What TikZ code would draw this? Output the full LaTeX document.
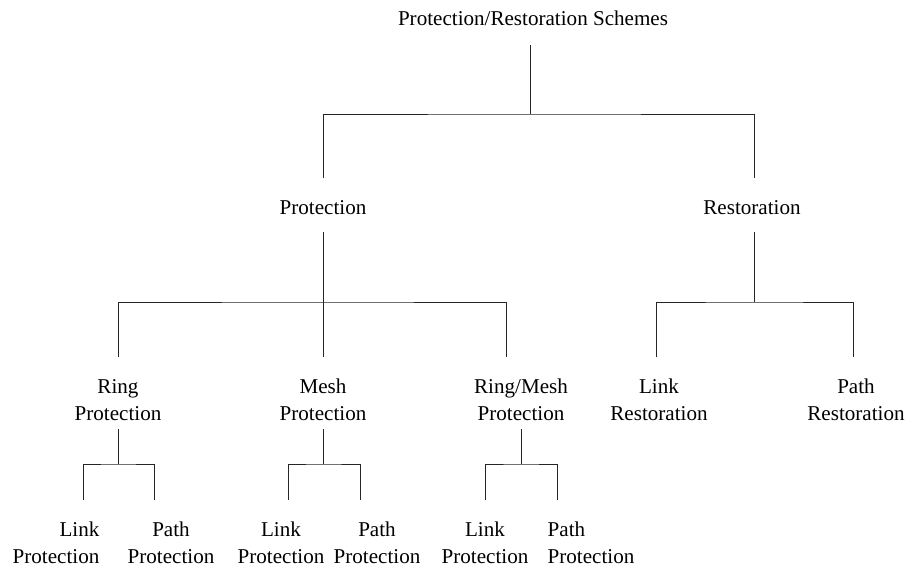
\documentclass[tikz,border=0pt]{standalone}
\usepackage{fontspec}
\setmainfont{Liberation Serif}
\begin{document}
\begin{tikzpicture}[x=0.3mm,y=-0.3mm,line cap=butt,
  lbl/.style={inner sep=0pt,align=center,text=black,font=\fontsize{18pt}{23pt}\selectfont},
  wire/.style={black!85,line width=0.8pt},
  drop/.style={shorten >=0.65cm}]
\useasboundingbox (0,0) rectangle (907,568);
\node[lbl,anchor=base] (root) at (533,25) {Protection/Restoration Schemes};
\node[lbl,anchor=base] (prot) at (323,214) {Protection};
\node[lbl,anchor=base] (rest) at (752,214) {Restoration};
\node[lbl,anchor=north] (ringp) at (118,379) {Ring\\Protection};
\node[lbl,anchor=north] (meshp) at (323,379) {Mesh\\Protection};
\node[lbl,anchor=north] (rmp) at (521,379) {Ring/Mesh\\Protection};
\node[lbl,anchor=north] (linkr) at (659,379) {Link\\Restoration};
\node[lbl,anchor=north] (pathr) at (856,379) {Path\\Restoration};
\node[lbl,anchor=north,align=right] (link1) at (56,522) {Link\\Protection};
\node[lbl,anchor=north] (path1) at (171,522) {Path\\Protection};
\node[lbl,anchor=north] (link2) at (281,522) {Link\\Protection};
\node[lbl,anchor=north] (path2) at (377,522) {Path\\Protection};
\node[lbl,anchor=north] (link3) at (485,522) {Link\\Protection};
\node[lbl,anchor=north,align=left] (path3) at (591,522) {Path\\Protection};
\coordinate (j0) at (530,114);
\coordinate (j1) at (323,302);
\coordinate (j2) at (754,302);
\coordinate (j3) at (118,464);
\coordinate (j4) at (323,464);
\coordinate (j5) at (521,464);
\draw[wire,shorten <=0.6cm] (j0 |- root.south) -- (j0);
\draw[wire,drop,shorten <=0.65cm] (prot.north) |- (j0) -| ([xshift=0.06cm]rest.north);
\draw[wire,drop,shorten <=0.54cm] (prot.south) -- (meshp.north);
\draw[wire,drop,shorten <=0.65cm] (ringp.north) |- (j1) -| ([xshift=-0.45cm]rmp.north);
\draw[wire,shorten <=0.54cm] (j2 |- rest.south) -- (j2);
\draw[wire,drop,shorten <=0.65cm] ([xshift=-0.09cm]linkr.north) |- (j2) -| ([xshift=-0.09cm]pathr.north);
\draw[wire,shorten <=0.24cm] (j3 |- ringp.south) -- (j3);
\draw[wire,drop,shorten <=0.65cm] ([xshift=0.81cm]link1.north) |- (j3) -| ([xshift=-0.51cm]path1.north);
\draw[wire,shorten <=0.24cm] (j4 |- meshp.south) -- (j4);
\draw[wire,drop,shorten <=0.65cm] ([xshift=0.21cm]link2.north) |- (j4) -| ([xshift=-0.51cm]path2.north);
\draw[wire,shorten <=0.24cm] (j5 |- rmp.south) -- (j5);
\draw[wire,drop,shorten <=0.65cm] (link3.north) |- (j5) -| ([xshift=-1.02cm]path3.north);
\end{tikzpicture}
\end{document}
